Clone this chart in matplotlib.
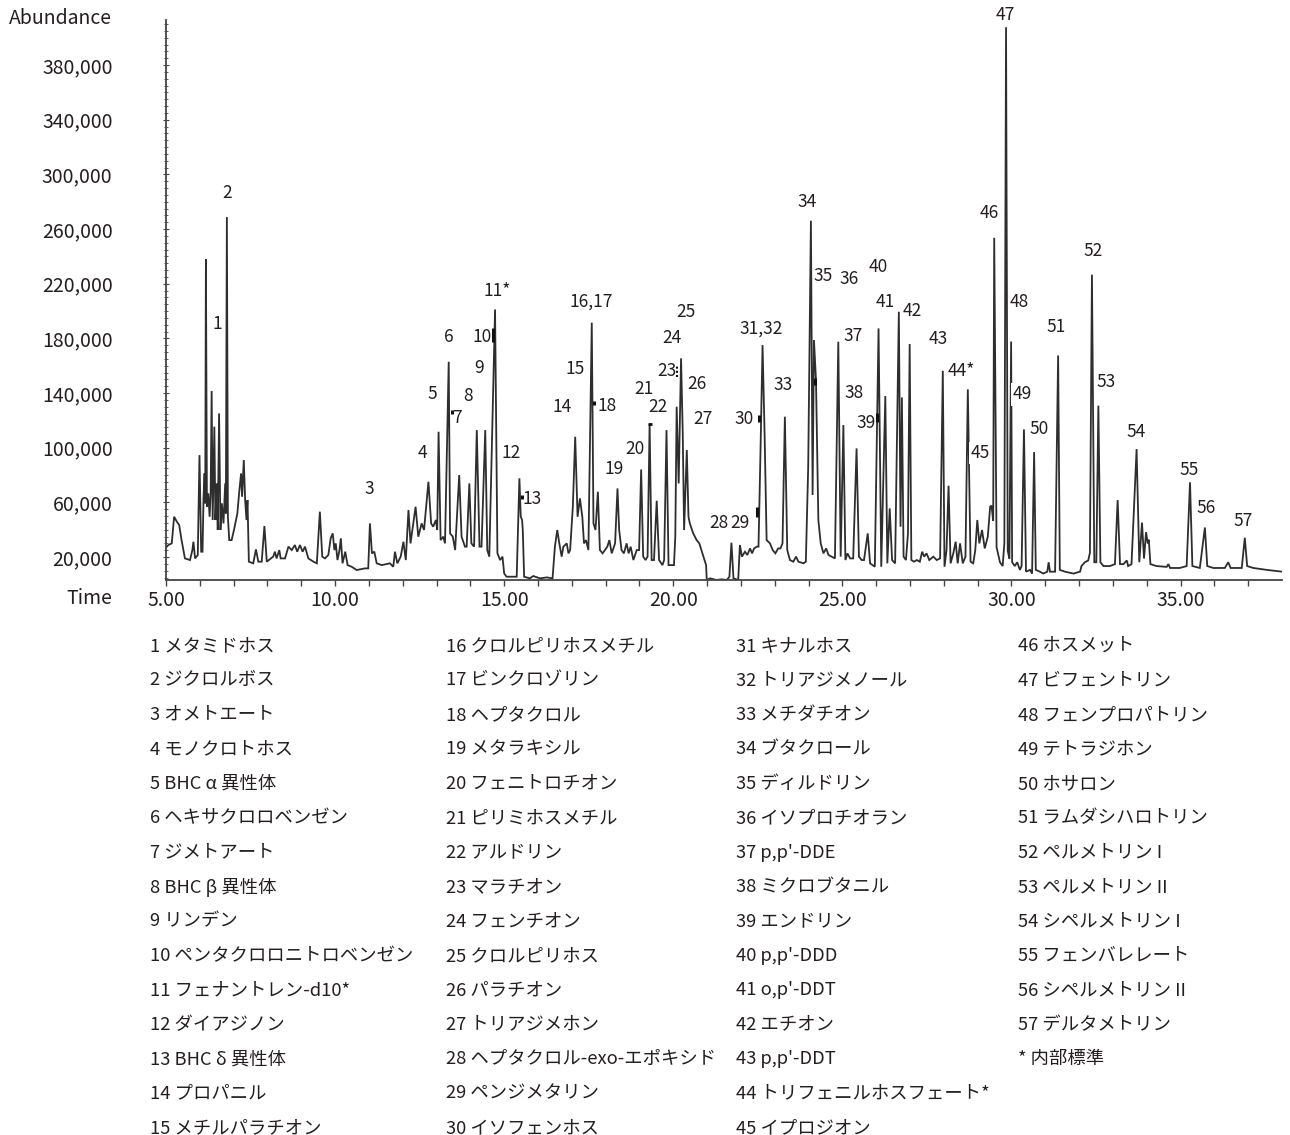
import numpy as np
import matplotlib.pyplot as plt
from matplotlib.ticker import FixedLocator, FuncFormatter

plt.rcParams['font.family'] = ['Noto Sans CJK JP', 'DejaVu Sans']

# total ion chromatogram as (time [min], abundance)
trace_05_12 = [
    (5.00, 27000), (5.07, 28800), (5.17, 30000), (5.24, 49500), (5.32, 45900), (5.39, 43400),
    (5.46, 32400), (5.56, 19000), (5.71, 17800), (5.78, 25100), (5.81, 31200), (5.86, 19000),
    (5.94, 21500), (5.99, 94600), (6.04, 23900), (6.08, 23900), (6.11, 64100), (6.14, 81200),
    (6.16, 59300), (6.18, 237800), (6.21, 56800), (6.25, 66600), (6.29, 49500), (6.32, 66600),
    (6.35, 141500), (6.38, 47100), (6.43, 115400), (6.46, 47100), (6.50, 73900), (6.53, 39800),
    (6.57, 125100), (6.61, 39800), (6.65, 59300), (6.70, 44600), (6.75, 73900), (6.77, 51900),
    (6.80, 268800), (6.83, 49500), (6.87, 32400), (6.94, 32400), (7.01, 39800), (7.11, 51900),
    (7.17, 69000), (7.22, 81200), (7.25, 64100), (7.30, 91000), (7.34, 61700), (7.38, 47100),
    (7.41, 61700), (7.45, 16600), (7.58, 15400), (7.66, 25600), (7.73, 16600), (7.83, 16600),
    (7.91, 42700), (7.98, 16600), (8.17, 20300), (8.22, 23900), (8.27, 19000), (8.35, 25100),
    (8.39, 19000), (8.52, 19000), (8.62, 27600), (8.72, 25100), (8.81, 28800), (8.88, 23900),
    (8.96, 28800), (9.04, 23900), (9.11, 27600), (9.21, 19000), (9.36, 16600), (9.46, 15400),
    (9.55, 53200), (9.62, 20300), (9.70, 19000), (9.80, 21500), (9.87, 33700), (9.93, 37300),
    (9.98, 25100), (10.02, 30000), (10.07, 17800), (10.13, 25100), (10.17, 33700), (10.22, 15400),
    (10.30, 23900), (10.37, 14100), (10.49, 12900), (10.64, 10500), (10.88, 11700), (10.98, 11700),
    (11.03, 44600), (11.09, 22700), (11.16, 23900), (11.23, 15400), (11.38, 14100), (11.62, 15400),
    (11.72, 12900), (11.77, 23900), (11.84, 15400), (11.94, 20300), (12.02, 31200), (12.09, 17800),
    (12.17, 54400),
]

trace_12_21 = [
    (12.23, 30000), (12.31, 44600), (12.38, 56800), (12.46, 34900), (12.56, 44600), (12.63, 39800),
    (12.76, 75100), (12.84, 44600), (12.90, 42200), (12.98, 47100), (13.02, 39800), (13.06, 111700),
    (13.12, 32400), (13.20, 34900), (13.25, 30000), (13.36, 162900), (13.40, 37300), (13.48, 34900),
    (13.55, 25100), (13.67, 80000), (13.74, 34900), (13.84, 27600), (13.89, 27600), (13.97, 73900),
    (14.03, 30000), (14.11, 27600), (14.19, 112900), (14.27, 27600), (14.33, 27600), (14.44, 112900),
    (14.50, 25100), (14.56, 20300), (14.73, 201200), (14.80, 22700), (14.88, 17800), (14.95, 20300),
    (15.00, 8000), (15.07, 5600), (15.27, 5600), (15.37, 5600), (15.45, 77600), (15.49, 49500),
    (15.53, 47100), (15.55, 39800), (15.59, 5600), (15.76, 4400), (15.86, 6100), (16.06, 4400),
    (16.26, 5100), (16.43, 4400), (16.50, 27600), (16.57, 39800), (16.63, 30000), (16.70, 20300),
    (16.75, 27600), (16.85, 30000), (16.90, 22700), (16.95, 25100), (17.03, 56800), (17.10, 108000),
    (17.17, 49500), (17.24, 62900), (17.31, 49500), (17.36, 30000), (17.42, 32400), (17.49, 25100),
    (17.59, 191500), (17.64, 44600), (17.70, 39800), (17.77, 67800), (17.83, 25100), (17.91, 22700),
    (17.98, 25100), (18.05, 27600), (18.11, 32400), (18.18, 22700), (18.28, 30000), (18.35, 70200),
    (18.40, 39800), (18.47, 25100), (18.54, 22700), (18.62, 30000), (18.68, 22700), (18.74, 27600),
    (18.82, 17800), (18.92, 25100), (18.99, 25100), (19.05, 84100), (19.11, 20300), (19.18, 17800),
    (19.24, 20300), (19.30, 117300), (19.36, 17800), (19.43, 17800), (19.51, 61200), (19.58, 17800),
    (19.68, 14100), (19.73, 17800), (19.80, 112900), (19.86, 14100), (19.95, 14100), (20.02, 14100),
    (20.06, 34900), (20.10, 130000), (20.16, 73900), (20.23, 165400), (20.28, 110500), (20.32, 39800),
    (20.40, 98300), (20.45, 49500), (20.49, 44600), (20.59, 37300), (20.69, 32400), (20.77, 30000),
    (20.89, 20300), (20.97, 14100),
]

trace_21_29 = [
    (20.99, 3200), (21.09, 4400), (21.28, 3200), (21.43, 3700), (21.58, 3200), (21.66, 5600),
    (21.72, 30500), (21.78, 4400), (21.92, 3200), (21.97, 28800), (22.03, 20300), (22.12, 23900),
    (22.19, 21500), (22.27, 26300), (22.33, 22700), (22.39, 26300), (22.47, 27600), (22.52, 27600),
    (22.58, 98300), (22.64, 175100), (22.70, 110500), (22.76, 32400), (22.86, 30000), (22.94, 25100),
    (23.02, 22700), (23.10, 26300), (23.17, 26300), (23.23, 30000), (23.30, 122700), (23.37, 25100),
    (23.45, 17800), (23.55, 16600), (23.63, 20300), (23.70, 16600), (23.85, 15400), (23.92, 16600),
    (23.99, 86100), (24.07, 266100), (24.12, 65400), (24.16, 178800), (24.22, 149500), (24.29, 47100),
    (24.36, 30000), (24.44, 22700), (24.52, 26300), (24.59, 21500), (24.68, 20300), (24.78, 19000),
    (24.88, 177600), (24.95, 20300), (25.03, 116600), (25.09, 17800), (25.15, 22700), (25.23, 19000),
    (25.32, 19000), (25.42, 99500), (25.49, 20300), (25.57, 17800), (25.64, 17800), (25.75, 37300),
    (25.82, 15400), (25.96, 12900), (26.07, 187300), (26.15, 12900), (26.27, 137800), (26.33, 15400),
    (26.40, 55600), (26.47, 17800), (26.56, 15400), (26.67, 199500), (26.72, 42200), (26.76, 136800),
    (26.81, 20300), (26.88, 17800), (26.94, 37300), (26.99, 175900), (27.04, 17800), (27.12, 16600),
    (27.20, 17800), (27.29, 16600), (27.36, 23900), (27.42, 20300), (27.49, 22700), (27.57, 17800),
    (27.69, 20300), (27.79, 17800), (27.89, 19000), (27.97, 156300), (28.02, 12900), (28.08, 25100),
    (28.14, 72200), (28.20, 15400), (28.28, 22700), (28.35, 31200), (28.41, 15400), (28.48, 30000),
    (28.56, 15400), (28.64, 20300), (28.71, 142700), (28.79, 16600), (28.87, 15400), (28.93, 25100),
    (28.99, 47100), (29.05, 30000), (29.13, 39800), (29.21, 26300), (29.30, 34900), (29.37, 56800),
]

trace_29_38 = [
    (29.41, 57600), (29.46, 46600), (29.49, 253600), (29.56, 27200), (29.66, 16200), (29.74, 13400),
    (29.79, 30000), (29.84, 407700), (29.89, 24500), (29.94, 18900), (29.99, 177700), (30.02, 16200),
    (30.10, 13400), (30.17, 16200), (30.25, 10600), (30.30, 13400), (30.37, 113400), (30.43, 9300),
    (30.55, 10600), (30.61, 7900), (30.67, 96800), (30.72, 10600), (30.84, 9300), (30.94, 7900),
    (31.06, 9300), (31.10, 16200), (31.14, 9300), (31.29, 9300), (31.38, 167500), (31.43, 10600),
    (31.58, 9300), (31.83, 7900), (32.03, 9300), (32.07, 13400), (32.17, 16200), (32.27, 17500),
    (32.32, 23100), (32.38, 226600), (32.45, 16200), (32.51, 16200), (32.57, 130800), (32.63, 16200),
    (32.72, 13400), (32.91, 13400), (33.06, 14800), (33.14, 61700), (33.21, 14800), (33.31, 14800),
    (33.41, 17500), (33.45, 13400), (33.55, 14800), (33.70, 99000), (33.78, 16200), (33.86, 45200),
    (33.92, 18900), (33.98, 38200), (34.03, 30000), (34.06, 32700), (34.11, 14800), (34.29, 13400),
    (34.59, 12800), (34.64, 14800), (34.69, 12000), (34.98, 12000), (35.18, 13400), (35.28, 74700),
    (35.35, 13400), (35.57, 12000), (35.72, 41600), (35.79, 13400), (35.97, 12000), (36.31, 12000),
    (36.41, 16200), (36.48, 12000), (36.81, 12000), (36.90, 34100), (36.97, 13400), (37.15, 12000),
    (37.55, 10600), (38.00, 9300),
]

# peak numbers and where they are written (time, abundance)
peak_ids = ['1', '2', '3', '4', '5', '6', '7', '8', '9', '10', '11*', '12', '13', '14', '15',
            '16,17', '18', '19', '20', '21', '22', '23', '24', '25', '26', '27', '28', '29', '30',
            '31,32', '33', '34', '35', '36', '37', '38', '39', '40', '41', '42', '43', '44*', '45',
            '46', '47', '48', '49', '50', '51', '52', '53', '54', '55', '56', '57']
peak_label_t = [6.52, 6.81, 11.00, 12.59, 12.87, 13.35, 13.61, 13.92, 14.26, 14.36, 14.78, 15.20,
                15.83, 16.72, 17.11, 17.57, 18.03, 18.24, 18.87, 19.13, 19.56, 19.81, 19.95, 20.37,
                20.71, 20.89, 21.36, 21.97, 22.09, 22.59, 23.25, 23.95, 24.44, 25.20, 25.32, 25.34,
                25.69, 26.06, 26.28, 27.08, 27.84, 28.53, 29.09, 29.33, 29.81, 30.22, 30.33, 30.82,
                31.32, 32.42, 32.79, 33.70, 35.26, 35.77, 36.84]
peak_label_a = [190300, 286700, 69500, 96300, 139300, 181200, 121500, 137800, 158500, 181200,
                214900, 95900, 62200, 129500, 157600, 206800, 130700, 84400, 98800, 142900, 130000,
                156100, 180000, 199500, 146600, 121000, 44700, 44700, 121000, 186800, 145900,
                279800, 225600, 223600, 181700, 140000, 118300, 232400, 206800, 200200, 179300,
                156300, 96200, 271700, 416600, 206600, 139000, 113400, 188700, 243900, 148000,
                111500, 83800, 56200, 46500]
boxed_labels = ['45', '49', '53']

# short leader ticks next to some labels: (time, abundance from, abundance to)
leader_marks = [(14.67, 177300, 187600), (22.54, 118800, 123900), (22.47, 49500, 56800),
                (26.01, 118800, 125400), (24.20, 145900, 151000), (13.45, 124500, 127500),
                (15.53, 62500, 65500), (17.66, 131500, 134300)]
leader_bar_21 = (19.26, 19.36, 117300)
leader_dots_23 = (20.10, 151700, 160500)

compound_names = [
    '1 メタミドホス', '2 ジクロルボス', '3 オメトエート', '4 モノクロトホス', '5 BHC α 異性体',
    '6 ヘキサクロロベンゼン', '7 ジメトアート', '8 BHC β 異性体', '9 リンデン',
    '10 ペンタクロロニトロベンゼン', '11 フェナントレン-d10*', '12 ダイアジノン', '13 BHC δ 異性体',
    '14 プロパニル', '15 メチルパラチオン',
    '16 クロルピリホスメチル', '17 ビンクロゾリン', '18 ヘプタクロル', '19 メタラキシル',
    '20 フェニトロチオン', '21 ピリミホスメチル', '22 アルドリン', '23 マラチオン', '24 フェンチオン',
    '25 クロルピリホス', '26 パラチオン', '27 トリアジメホン', '28 ヘプタクロル-exo-エポキシド',
    '29 ペンジメタリン', '30 イソフェンホス',
    '31 キナルホス', '32 トリアジメノール', '33 メチダチオン', '34 ブタクロール', '35 ディルドリン',
    '36 イソプロチオラン', "37 p,p'-DDE", '38 ミクロブタニル', '39 エンドリン', "40 p,p'-DDD",
    "41 o,p'-DDT", '42 エチオン', "43 p,p'-DDT", '44 トリフェニルホスフェート*', '45 イプロジオン',
    '46 ホスメット', '47 ビフェントリン', '48 フェンプロパトリン', '49 テトラジホン', '50 ホサロン',
    '51 ラムダシハロトリン', '52 ペルメトリン I', '53 ペルメトリン II', '54 シペルメトリン I',
    '55 フェンバレレート', '56 シペルメトリン II', '57 デルタメトリン', '* 内部標準',
]

W, H = 1290, 1135
ink = '#231f20'
fig = plt.figure(figsize=(W / 100, H / 100), dpi=100)
ax = fig.add_axes([166 / W, 1 - 580 / H, (1282 - 166) / W, (580 - 20) / H])

segments = [trace_05_12, trace_12_21, trace_21_29, trace_29_38]
time_min = [p[0] for seg in segments for p in seg]
abundance = [p[1] for seg in segments for p in seg]
ax.plot(time_min, abundance, color='#2e2e2e', lw=1.3, solid_joinstyle='miter')

for t, a0, a1 in leader_marks:
    ax.plot([t, t], [a0, a1], color='#111111', lw=2.2, solid_capstyle='butt')
ax.plot(leader_bar_21[:2], [leader_bar_21[2]] * 2, color='#111111', lw=2, solid_capstyle='butt')
ax.plot([leader_dots_23[0]] * 2, leader_dots_23[1:], color='#111111', lw=1.5, ls=(0, (1, 1)))

ax.set_xlim(5.0, 38.0)
ax.set_ylim(3200, 413000)
for s in ['top', 'right']:
    ax.spines[s].set_visible(False)
for s in ['left', 'bottom']:
    ax.spines[s].set_color('#444444')
    ax.spines[s].set_linewidth(1.3)

ax.xaxis.set_major_locator(FixedLocator([5, 10, 15, 20, 25, 30, 35]))
ax.xaxis.set_minor_locator(FixedLocator(np.arange(6, 38, 1)))
ax.xaxis.set_major_formatter(FuncFormatter(lambda v, p: f'{v:.2f}'))
ax.tick_params(axis='x', which='both', direction='out', length=4.5, width=1, color='#444444',
               labelsize=14, labelcolor=ink, pad=3)

ax.yaxis.set_major_locator(FixedLocator(np.arange(20000, 400000, 40000)))
ax.yaxis.set_minor_locator(FixedLocator(np.arange(5000, 413000, 5000)))
ax.yaxis.set_major_formatter(FuncFormatter(lambda v, p: f'{int(v):,}'))
ax.tick_params(axis='y', which='major', direction='inout', length=5, width=0.8, color='#444444',
               labelsize=14, labelcolor=ink, pad=36)
ax.tick_params(axis='y', which='minor', direction='inout', length=3, width=0.6, color='#444444')

for lab, t, a in zip(peak_ids, peak_label_t, peak_label_a):
    kw = {}
    if lab in boxed_labels:
        kw['bbox'] = dict(facecolor='white', edgecolor='none', pad=1.5)
    ax.text(t, a, lab, ha='center', va='center', fontsize=12.5, color=ink, clip_on=False,
            zorder=3, **kw)

fig.text(112 / W, 1 - 18 / H, 'Abundance', ha='right', va='center', fontsize=14, color=ink)
fig.text(112 / W, 1 - 599 / H, 'Time', ha='right', va='center', fontsize=14, color=ink)

col_x = [150, 446, 736, 1018]
row_y0, row_dy = 646, 34.43
for i, name in enumerate(compound_names):
    col, row = divmod(i, 15)
    fig.text(col_x[col] / W, 1 - (row_y0 + row * row_dy) / H, name, ha='left', va='center',
             fontsize=13.2, color=ink)

fig.savefig('out.png', dpi=100, facecolor='white')
